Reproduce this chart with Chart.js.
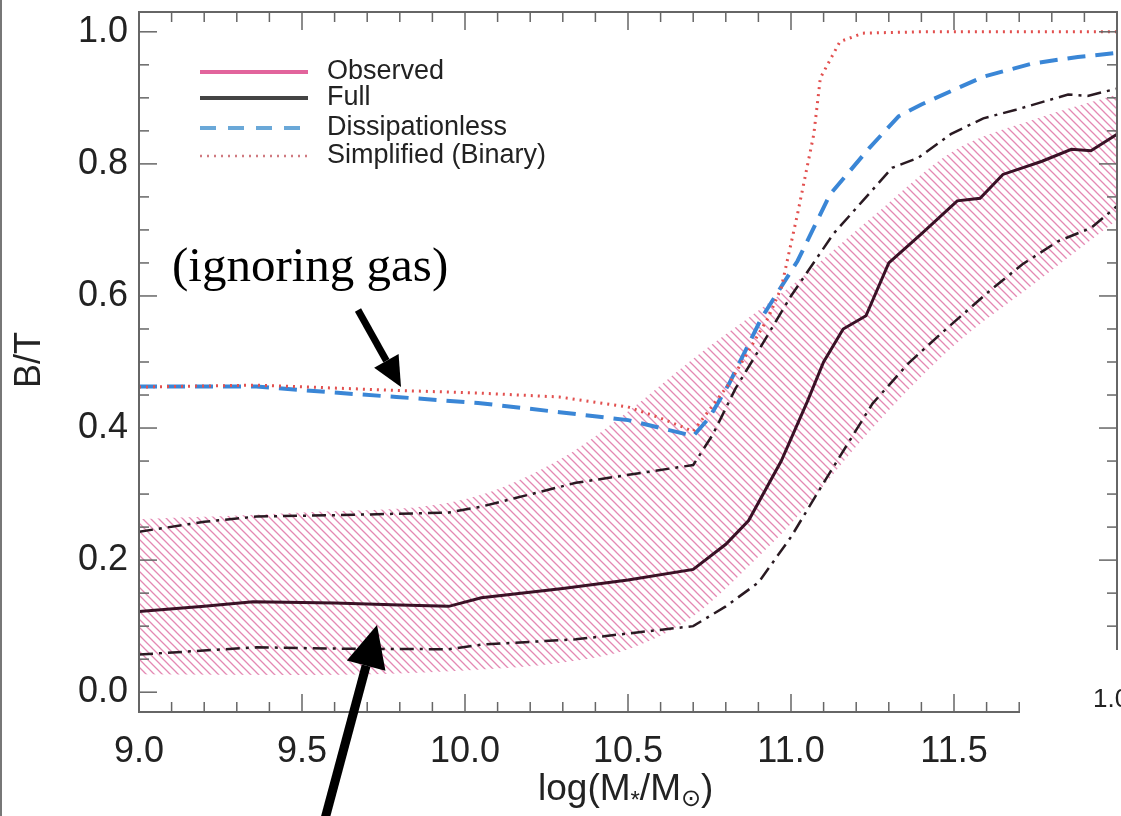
<!DOCTYPE html>
<html>
<head>
<meta charset="utf-8">
<script src="https://cdn.jsdelivr.net/npm/chart.js@4.4.0/dist/chart.umd.min.js"></script>
<style>
  html, body { margin: 0; padding: 0; background: #fff; }
  #wrap { position: relative; width: 1121px; height: 816px; }
  #wrap::before { content: ''; position: absolute; left: 0; top: 0; width: 2px; height: 816px; background: #777; }
</style>
</head>
<body>
<div id="wrap"><canvas id="btChart" width="1121" height="816"></canvas></div>
<script>
// observed band (hatched)
const bandMass  = [9.0, 9.5, 10.0, 10.3, 10.5, 10.7, 10.9, 11.0, 11.25, 11.5, 11.75, 12.0];
const bandUpper = [0.262, 0.272, 0.292, 0.355, 0.425, 0.505, 0.578, 0.615, 0.72, 0.82, 0.868, 0.905];
const bandLower = [0.027, 0.026, 0.033, 0.045, 0.065, 0.115, 0.205, 0.255, 0.40, 0.525, 0.62, 0.715];

// full model, median and scatter
const fullMass = [9.0, 9.2, 9.35, 9.6, 9.8, 9.95, 10.05, 10.3, 10.5, 10.7, 10.8, 10.87, 10.97, 11.05, 11.1, 11.16, 11.23, 11.3, 11.4, 11.51, 11.58, 11.65, 11.77, 11.86, 11.92, 12.0];
const fullBT   = [0.122, 0.130, 0.137, 0.135, 0.132, 0.130, 0.143, 0.157, 0.170, 0.186, 0.224, 0.26, 0.35, 0.44, 0.50, 0.55, 0.57, 0.65, 0.694, 0.744, 0.748, 0.784, 0.804, 0.822, 0.820, 0.845];

const fullHiMass = [9.0, 9.2, 9.36, 9.6, 9.95, 10.05, 10.34, 10.7, 10.76, 10.83, 10.9, 11.0, 11.13, 11.22, 11.31, 11.39, 11.49, 11.59, 11.69, 11.85, 11.91, 12.0];
const fullHiBT   = [0.243, 0.258, 0.266, 0.268, 0.272, 0.281, 0.317, 0.344, 0.39, 0.46, 0.517, 0.60, 0.694, 0.744, 0.794, 0.809, 0.845, 0.869, 0.882, 0.905, 0.903, 0.914];

const fullLoMass = [9.0, 9.36, 9.6, 9.95, 10.05, 10.34, 10.7, 10.8, 10.9, 11.0, 11.1, 11.25, 11.36, 11.46, 11.61, 11.71, 11.82, 11.92, 12.0];
const fullLoBT   = [0.057, 0.068, 0.066, 0.065, 0.072, 0.08, 0.10, 0.13, 0.166, 0.235, 0.317, 0.437, 0.498, 0.543, 0.608, 0.648, 0.683, 0.703, 0.736];

// dissipationless
const dissMass = [9.0, 9.36, 9.59, 9.79, 10.04, 10.29, 10.5, 10.7, 10.75, 10.81, 10.91, 11.02, 11.12, 11.24, 11.33, 11.4, 11.49, 11.59, 11.74, 11.88, 12.0];
const dissBT   = [0.463, 0.463, 0.454, 0.447, 0.438, 0.424, 0.412, 0.388, 0.416, 0.467, 0.567, 0.653, 0.754, 0.824, 0.872, 0.89, 0.91, 0.932, 0.952, 0.962, 0.968];

// simplified (binary)
const simpMass = [9.0, 9.36, 9.79, 10.04, 10.29, 10.5, 10.6, 10.7, 10.81, 10.93, 10.97, 11.02, 11.07, 11.09, 11.15, 11.22, 11.4, 12.0];
const simpBT   = [0.462, 0.465, 0.457, 0.453, 0.447, 0.432, 0.415, 0.395, 0.467, 0.567, 0.612, 0.724, 0.845, 0.93, 0.985, 0.998, 1.0, 1.0];

const xTicks = [9.0, 9.5, 10.0, 10.5, 11.0, 11.5];
const yTicks = [0.0, 0.2, 0.4, 0.6, 0.8, 1.0];

const legendItems = ['Observed', 'Full', 'Dissipationless', 'Simplified (Binary)'];

const FONT = '"Liberation Sans", Arial, sans-serif';
const pts = (xs, ys) => xs.map((x, i) => ({ x: x, y: ys[i] }));

const canvas = document.getElementById('btChart');
const ctx0 = canvas.getContext('2d');

function hatchPattern() {
  const c = document.createElement('canvas');
  c.width = 8; c.height = 8;
  const g = c.getContext('2d');
  g.strokeStyle = 'rgba(218,92,150,0.72)';
  g.lineWidth = 1.3;
  g.beginPath();
  g.moveTo(0, 0); g.lineTo(8, 8);
  g.moveTo(-4, 4); g.lineTo(4, 12);
  g.moveTo(4, -4); g.lineTo(12, 4);
  g.stroke();
  return ctx0.createPattern(c, 'repeat');
}

function arrow(ctx, x0, y0, x1, y1, w, hl, hw) {
  const a = Math.atan2(y1 - y0, x1 - x0);
  const bx = x1 - hl * Math.cos(a), by = y1 - hl * Math.sin(a);
  ctx.lineWidth = w;
  ctx.beginPath(); ctx.moveTo(x0, y0); ctx.lineTo(bx, by); ctx.stroke();
  ctx.beginPath();
  ctx.moveTo(x1, y1);
  ctx.lineTo(bx + hw / 2 * Math.sin(a), by - hw / 2 * Math.cos(a));
  ctx.lineTo(bx - hw / 2 * Math.sin(a), by + hw / 2 * Math.cos(a));
  ctx.closePath(); ctx.fill();
}

// frame, inward ticks, legend, titles, arrows
const decor = {
  id: 'decor',
  afterDraw(chart) {
    const { ctx, chartArea: a, scales: { x, y } } = chart;
    ctx.save();
    ctx.strokeStyle = '#666';
    ctx.lineWidth = 2;
    ctx.strokeRect(a.left, a.top, a.right - a.left, a.bottom - a.top);

    ctx.lineWidth = 1.5;
    const seg = (x0, y0, x1, y1) => { ctx.beginPath(); ctx.moveTo(x0, y0); ctx.lineTo(x1, y1); ctx.stroke(); };
    for (let i = 90; i <= 120; i++) {
      const px = x.getPixelForValue(i / 10), len = i % 5 === 0 ? 18 : 10;
      seg(px, a.bottom, px, a.bottom - len);
      seg(px, a.top, px, a.top + len);
    }
    for (let i = 0; i <= 20; i++) {
      const py = y.getPixelForValue(i / 20), len = i % 4 === 0 ? 18 : 10;
      seg(a.left, py, a.left + len, py);
      seg(a.right, py, a.right - len, py);
    }

    // legend
    const rows = [72, 98, 128, 156];
    const styles = [
      { c: '#e2649c', w: 4, d: [] },
      { c: '#444', w: 4, d: [] },
      { c: '#6aa8d8', w: 4, d: [16, 12] },
      { c: '#d07a80', w: 2.5, d: [2, 5] }
    ];
    ctx.font = '27px ' + FONT;
    ctx.textBaseline = 'middle';
    ctx.fillStyle = '#222';
    legendItems.forEach((t, i) => {
      const s = styles[i];
      ctx.strokeStyle = s.c; ctx.lineWidth = s.w; ctx.setLineDash(s.d);
      seg(200, rows[i], 308, rows[i]);
      ctx.setLineDash([]);
      ctx.fillText(t, 327, rows[i]);
    });

    // axis titles
    ctx.fillStyle = '#222';
    ctx.save();
    ctx.translate(30, 360); ctx.rotate(-Math.PI / 2);
    ctx.textAlign = 'center'; ctx.textBaseline = 'middle';
    ctx.font = '36px ' + FONT;
    ctx.fillText('B/T', 0, 0);
    ctx.restore();

    ctx.textBaseline = 'alphabetic';
    let tx = 538;
    const part = (t, f, dy) => { ctx.font = f; ctx.fillText(t, tx, 800 + dy); tx += ctx.measureText(t).width; };
    part('log(M', '37px ' + FONT, 0);
    part('*', '24px ' + FONT, 8);
    part('/M', '37px ' + FONT, 0);
    part('\u2299', '24px "DejaVu Sans"', 6);
    part(')', '37px ' + FONT, 0);

    // annotations
    ctx.fillStyle = '#000'; ctx.strokeStyle = '#000';
    ctx.font = '49px "Liberation Serif", "Times New Roman", serif';
    ctx.fillText('(ignoring gas)', 172, 281);
    arrow(ctx, 358, 310, 401, 387, 7, 30, 28);
    arrow(ctx, 322, 830, 377, 625, 9, 42, 40);

    // neighbouring panel overlapping the lower right corner
    ctx.fillStyle = '#fff';
    ctx.fillRect(1020, 650, 101, 166);
    ctx.fillStyle = '#222';
    ctx.font = '26px ' + FONT;
    ctx.textBaseline = 'middle';
    ctx.fillText('1.0', 1093, 700);
    ctx.restore();
  }
};

const tickFont = { family: FONT, size: 36 };

new Chart(canvas, {
  type: 'line',
  data: {
    datasets: [
      { label: 'Simplified (Binary)', data: pts(simpMass, simpBT), borderColor: '#e2504f', borderWidth: 3, borderDash: [2, 5], fill: false, order: 1 },
      { label: 'Dissipationless', data: pts(dissMass, dissBT), borderColor: '#3a86d6', borderWidth: 4, borderDash: [18, 10], fill: false, order: 2 },
      { label: 'Full', data: pts(fullMass, fullBT), borderColor: '#3a1226', borderWidth: 3, fill: false, order: 3 },
      { label: 'Full high', data: pts(fullHiMass, fullHiBT), borderColor: '#2a1a22', borderWidth: 2.5, borderDash: [14, 6, 3, 6], fill: false, order: 4 },
      { label: 'Full low', data: pts(fullLoMass, fullLoBT), borderColor: '#2a1a22', borderWidth: 2.5, borderDash: [14, 6, 3, 6], fill: false, order: 5 },
      { label: 'Observed high', data: pts(bandMass, bandUpper), borderWidth: 0, borderColor: 'rgba(0,0,0,0)', backgroundColor: hatchPattern(), fill: '+1', cubicInterpolationMode: 'monotone', order: 10 },
      { label: 'Observed low', data: pts(bandMass, bandLower), borderWidth: 0, borderColor: 'rgba(0,0,0,0)', fill: false, cubicInterpolationMode: 'monotone', order: 11 }
    ]
  },
  options: {
    responsive: false,
    animation: false,
    layout: { padding: { top: 12, right: 4, left: 0, bottom: 0 } },
    elements: { point: { radius: 0 }, line: { tension: 0 } },
    plugins: { legend: { display: false }, tooltip: { enabled: false } },
    scales: {
      x: {
        type: 'linear', min: 9, max: 12,
        grid: { display: false, drawTicks: false },
        border: { display: false },
        afterBuildTicks: s => { s.ticks = xTicks.map(v => ({ value: v })); },
        afterFit: s => { s.height = 104; s.paddingLeft = 0; s.paddingRight = 0; },
        ticks: { font: tickFont, color: '#222', padding: 18, maxRotation: 0, autoSkip: false, callback: v => v.toFixed(1) }
      },
      y: {
        type: 'linear', min: -0.03, max: 1.03,
        grid: { display: false, drawTicks: false },
        border: { display: false },
        afterBuildTicks: s => { s.ticks = yTicks.map(v => ({ value: v })); },
        afterFit: s => { s.width = 139; s.paddingTop = 0; s.paddingBottom = 0; },
        ticks: { font: tickFont, color: '#222', padding: 11, autoSkip: false, callback: v => v.toFixed(1) }
      }
    }
  },
  plugins: [decor]
});
</script>
</body>
</html>
